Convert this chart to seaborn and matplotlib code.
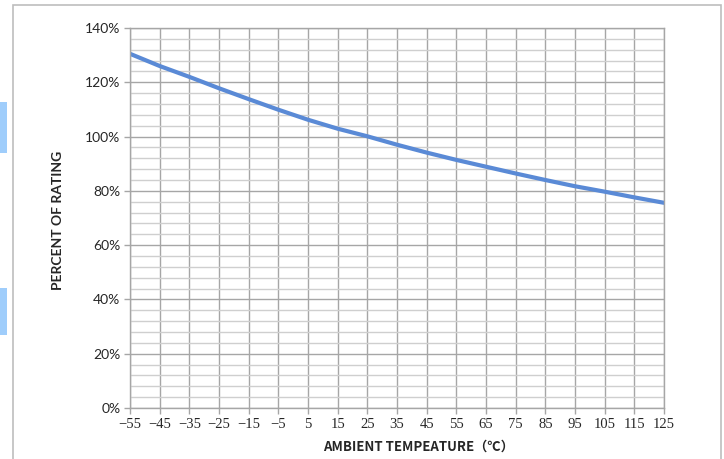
import numpy as np
import pandas as pd
import matplotlib
matplotlib.use("Agg")
import matplotlib.pyplot as plt
from matplotlib.patches import Rectangle
from matplotlib.ticker import MultipleLocator, FixedLocator
import seaborn as sns

# derating curve
temps = [-55, -45, -35, -25, -15, -5, 5, 15, 25, 35, 45, 55, 65, 75, 85, 95, 105, 115, 125]
rating = [130.5, 126.0, 122.0, 117.8, 113.8, 109.9, 106.2, 102.9, 100.1, 97.0, 94.1, 91.4, 88.9, 86.4, 84.0, 81.7, 79.7, 77.6, 75.6]
y_ticks = [0, 20, 40, 60, 80, 100, 120, 140]
y_labels = [f"{v}%" for v in y_ticks]
x_labels = [f"\u2212{abs(t)}" if t < 0 else str(t) for t in temps]

df = pd.DataFrame({"temp": temps, "rating": rating})

sns.set_style("white")
plt.rcParams["font.family"] = ["Lato", "DejaVu Sans"]

fig = plt.figure(figsize=(7.24, 4.59), dpi=100)
ax = fig.add_axes([130 / 724, 1 - 408 / 459, (664 - 130) / 724, (408 - 28) / 459])

# outer frame and side markers
fig.patches.append(Rectangle((13 / 724, -0.05), (721 - 13) / 724, 1.05 - 5 / 459,
                             transform=fig.transFigure, fill=False, edgecolor="#bdbdbd", lw=1.2))
for y0, y1 in [(102, 153), (288, 335)]:
    fig.patches.append(Rectangle((0, 1 - y1 / 459), 7 / 724, (y1 - y0) / 459,
                                 transform=fig.transFigure, color="#9fcdfb", lw=0))

sns.lineplot(data=df, x="temp", y="rating", ax=ax, color="#5a8ad6", lw=3.0)

ax.set_xlim(-55, 125)
ax.set_ylim(0, 140)
ax.xaxis.set_major_locator(FixedLocator(temps))
ax.set_xticklabels(x_labels, family=["Liberation Serif", "DejaVu Serif"], fontsize=10.5)
ax.yaxis.set_major_locator(FixedLocator(y_ticks))
ax.set_yticklabels(y_labels, fontsize=10)
ax.yaxis.set_minor_locator(MultipleLocator(4))

ax.grid(which="major", axis="both", color="#a6a6a6", lw=1.0)
ax.grid(which="minor", axis="y", color="#cfcfcf", lw=1.0)
ax.set_axisbelow(True)
for s in ax.spines.values():
    s.set_color("#a6a6a6")
    s.set_linewidth(1.0)

ax.tick_params(axis="both", which="major", direction="out", length=4, width=1,
               color="#a6a6a6", pad=3, left=True, bottom=True)
ax.tick_params(axis="y", which="minor", length=0)

ax.set_xlabel("")
ax.set_ylabel("")
fig.text(418 / 724, 1 - 447 / 459, "AMBIENT TEMPEATURE（℃）", ha="center", va="center",
         fontsize=9.5, fontweight="bold", family=["Noto Sans CJK SC", "DejaVu Sans"])
fig.text(58 / 724, 1 - 220 / 459, "PERCENT OF RATING", ha="center", va="center",
         rotation=90, fontsize=10, fontweight="bold", family=["Lato", "DejaVu Sans"])

fig.savefig("out.png", dpi=100)
